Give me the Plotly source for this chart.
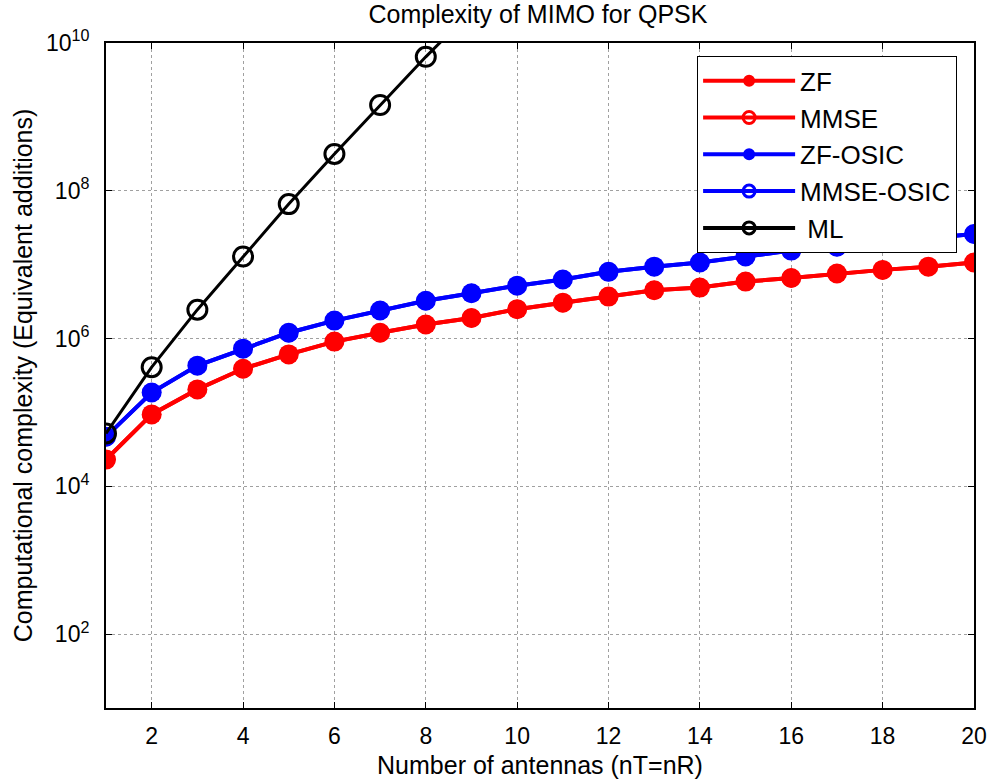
import plotly.graph_objects as go

n_antennas = list(range(1, 21))
zf = [2.3e4, 9.4e4, 2.05e5, 3.9e5, 6.1e5, 9.1e5, 1.2e6, 1.55e6, 1.9e6, 2.5e6,
      3.06e6, 3.7e6, 4.5e6, 4.9e6, 5.9e6, 6.6e6, 7.6e6, 8.5e6, 9.4e6, 1.07e7]
mmse = list(zf)
zf_osic = [4.7e4, 1.86e5, 4.3e5, 7.3e5, 1.2e6, 1.75e6, 2.4e6, 3.25e6, 4.1e6, 5.2e6,
           6.3e6, 8.0e6, 9.4e6, 1.07e7, 1.29e7, 1.55e7, 1.75e7, 2.0e7, 2.25e7, 2.6e7]
mmse_osic = list(zf_osic)
ml_n = list(range(1, 10))
ml = [5.2e4, 4.1e5, 2.46e6, 1.29e7, 6.6e7, 3.15e8, 1.45e9, 6.5e9, 2.7e10]

x_ticks = list(range(2, 21, 2))
y_tickvals = [1e2, 1e4, 1e6, 1e8, 1e10]
y_ticktext = ["10<sup>2</sup>", "10<sup>4</sup>", "10<sup>6</sup>", "10<sup>8</sup>", "10<sup>10</sup>"]

RED = "#ff0000"
BLUE = "#0000ff"
BLACK = "#000000"
FONT = "Arial, 'Liberation Sans', sans-serif"

fig = go.Figure()

# main traces
fig.add_trace(go.Scatter(x=n_antennas, y=zf, mode="lines+markers", showlegend=False,
                         line=dict(color=RED, width=4),
                         marker=dict(symbol="circle", size=20, color=RED)))
fig.add_trace(go.Scatter(x=n_antennas, y=mmse, mode="lines+markers", showlegend=False,
                         line=dict(color=RED, width=4),
                         marker=dict(symbol="circle-open", size=17, color=RED, line=dict(width=2, color=RED))))
fig.add_trace(go.Scatter(x=n_antennas, y=zf_osic, mode="lines+markers", showlegend=False,
                         line=dict(color=BLUE, width=4),
                         marker=dict(symbol="circle", size=20, color=BLUE)))
fig.add_trace(go.Scatter(x=n_antennas, y=mmse_osic, mode="lines+markers", showlegend=False,
                         line=dict(color=BLUE, width=4),
                         marker=dict(symbol="circle-open", size=17, color=BLUE, line=dict(width=2, color=BLUE))))
fig.add_trace(go.Scatter(x=ml_n, y=ml, mode="lines+markers", showlegend=False,
                         line=dict(color=BLACK, width=3),
                         marker=dict(symbol="circle-open", size=19, color=BLACK, line=dict(width=3, color=BLACK))))

# legend entries
legend_items = [
    ("ZF", RED, "circle", 9),
    ("MMSE", RED, "circle-open", 12),
    ("ZF-OSIC", BLUE, "circle", 9),
    ("MMSE-OSIC", BLUE, "circle-open", 12),
    (" ML", BLACK, "circle-open", 12),
]
for name, col, sym, sz in legend_items:
    fig.add_trace(go.Scatter(x=[None], y=[None], mode="lines+markers", name=name,
                             line=dict(color=col, width=4),
                             marker=dict(symbol=sym, size=sz, color=col, line=dict(width=3, color=col))))

fig.update_layout(
    width=992, height=779,
    margin=dict(l=106, r=18, t=43, b=71, autoexpand=False),
    paper_bgcolor="white", plot_bgcolor="white",
    font=dict(family=FONT, size=24, color="black"),
    title=dict(text="Complexity of MIMO for QPSK", x=0.5423, xanchor="center", y=0.982, yanchor="middle",
               font=dict(size=25, family=FONT, color="black"), automargin=False),
    legend=dict(x=0.681, xanchor="left", y=0.98, yanchor="top",
                bordercolor="black", borderwidth=1, bgcolor="white",
                font=dict(size=26, family=FONT, color="black"),
                itemwidth=92, tracegroupgap=0),
)
fig.update_xaxes(range=[1, 20], tickvals=x_ticks, ticks="inside", ticklen=6, tickcolor="black",
                 showline=True, linecolor="black", linewidth=2, mirror="ticks", automargin=False,
                 showgrid=True, gridcolor="#a0a0a0", griddash="dot", gridwidth=1,
                 zeroline=False, tickfont=dict(size=23), ticklabelstandoff=6,
                 title=dict(text="Number of antennas (nT=nR)", font=dict(size=25), standoff=10))
fig.update_yaxes(type="log", range=[1, 10], tickvals=y_tickvals, ticktext=y_ticktext,
                 ticks="inside", ticklen=6, tickcolor="black",
                 showline=True, linecolor="black", linewidth=2, mirror="ticks", automargin=False,
                 showgrid=True, gridcolor="#a0a0a0", griddash="dot", gridwidth=1,
                 zeroline=False, tickfont=dict(size=23), ticklabelstandoff=10,
                 title=dict(text="Computational complexity (Equivalent additions)", font=dict(size=25), standoff=6))

fig.write_html("out.html", config={"displayModeBar": False},
               post_script="document.body.style.margin='0';document.body.style.overflow='hidden';")
